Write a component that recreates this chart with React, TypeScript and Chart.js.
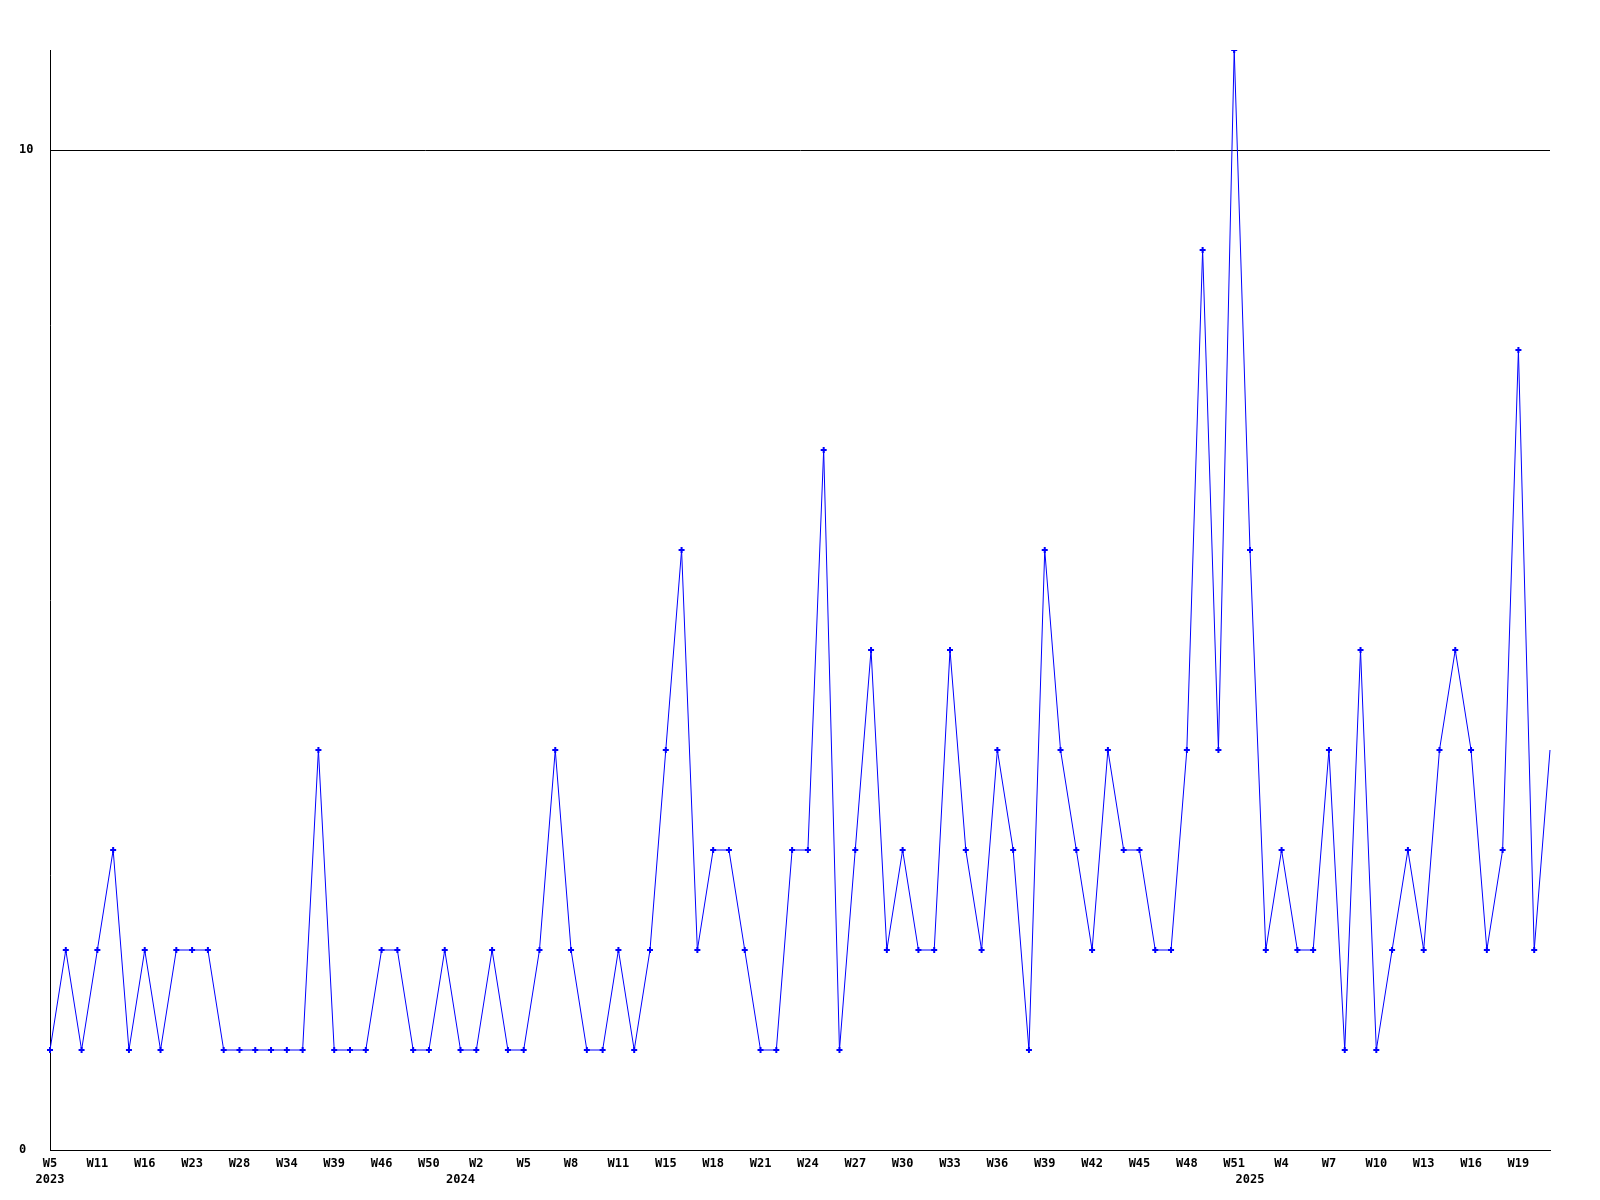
import React, { useEffect, useRef } from "react";
import { Chart, registerables } from "chart.js";

Chart.register(...registerables);

// Weeks (year-week) present in the series
const weeks: string[] = [
  "2023-W05", "2023-W07", "2023-W09", "2023-W11", "2023-W12", "2023-W14", "2023-W16", "2023-W18",
  "2023-W20", "2023-W23", "2023-W25", "2023-W26", "2023-W28", "2023-W30", "2023-W32", "2023-W34",
  "2023-W35", "2023-W37", "2023-W39", "2023-W42", "2023-W44", "2023-W46", "2023-W47", "2023-W49",
  "2023-W50", "2023-W52",
  "2024-W01", "2024-W02", "2024-W03", "2024-W04", "2024-W05", "2024-W06", "2024-W07", "2024-W08",
  "2024-W09", "2024-W10", "2024-W11", "2024-W13", "2024-W14", "2024-W15", "2024-W16", "2024-W17",
  "2024-W18", "2024-W19", "2024-W20", "2024-W21", "2024-W22", "2024-W23", "2024-W24", "2024-W25",
  "2024-W26", "2024-W27", "2024-W28", "2024-W29", "2024-W30", "2024-W31", "2024-W32", "2024-W33",
  "2024-W34", "2024-W35", "2024-W36", "2024-W37", "2024-W38", "2024-W39", "2024-W40", "2024-W41",
  "2024-W42", "2024-W43", "2024-W44", "2024-W45", "2024-W46", "2024-W47", "2024-W48", "2024-W49",
  "2024-W50", "2024-W51",
  "2025-W01", "2025-W03", "2025-W04", "2025-W05", "2025-W06", "2025-W07", "2025-W08", "2025-W09",
  "2025-W10", "2025-W11", "2025-W12", "2025-W13", "2025-W14", "2025-W15", "2025-W16", "2025-W17",
  "2025-W18", "2025-W19", "2025-W20", "2025-W21",
];

const counts: number[] = [
  1, 2, 1, 2, 3, 1, 2, 1, 2, 2,
  2, 1, 1, 1, 1, 1, 1, 4, 1, 1,
  1, 2, 2, 1, 1, 2, 1, 1, 2, 1,
  1, 2, 4, 2, 1, 1, 2, 1, 2, 4,
  6, 2, 3, 3, 2, 1, 1, 3, 3, 7,
  1, 3, 5, 2, 3, 2, 2, 5, 3, 2,
  4, 3, 1, 6, 4, 3, 2, 4, 3, 3,
  2, 2, 4, 9, 4, 11, 6, 2, 3, 2,
  2, 4, 1, 5, 1, 2, 3, 2, 4, 5,
  4, 2, 3, 8, 2, 4,
];

const yTickValues: number[] = [0, 10];
const yMin = 0;
const yMax = 11;
const labelEvery = 3;

const FONT = { family: "'DejaVu Sans Mono', 'Liberation Mono', monospace", size: 12, weight: "bold" as const, lineHeight: 1.3 };

export default function App() {
  const canvasRef = useRef<HTMLCanvasElement | null>(null);

  useEffect(() => {
    const canvas = canvasRef.current;
    if (!canvas) return;
    const last = counts.length - 1;
    const chart = new Chart(canvas, {
      type: "line",
      data: {
        labels: weeks,
        datasets: [
          {
            data: counts,
            borderColor: "#0000ff",
            backgroundColor: "#0000ff",
            borderWidth: 1,
            tension: 0,
            fill: false,
            pointStyle: "cross",
            pointRadius: (ctx: any) => (ctx.dataIndex === last ? 0 : 3),
            pointBorderWidth: 2,
            pointBorderColor: "#0000ff",
            pointBackgroundColor: "#0000ff",
          },
        ],
      },
      options: {
        animation: false,
        responsive: false,
        maintainAspectRatio: false,
        layout: { padding: { left: 19, top: 50, right: 50, bottom: 0 } },
        plugins: {
          legend: { display: false },
          tooltip: { enabled: false },
          title: { display: false },
        },
        scales: {
          x: {
            type: "category",
            grid: { display: false, drawTicks: false },
            border: { display: true, color: "#000000", width: 1 },
            afterFit: (scale: any) => {
              scale.height = 50;
            },
            ticks: {
              autoSkip: false,
              maxRotation: 0,
              minRotation: 0,
              padding: 6,
              color: "#000000",
              font: FONT,
              callback: (_value: any, index: number) => {
                const w = weeks[index];
                const year = w.slice(0, 4);
                const wk = Number(w.slice(6));
                const weekText = index % labelEvery === 0 ? "W" + wk : "";
                const firstOfYear = index === 0 || weeks[index - 1].slice(0, 4) !== year;
                return firstOfYear ? [weekText, year] : weekText;
              },
            },
          },
          y: {
            type: "linear",
            min: yMin,
            max: yMax,
            grid: { display: true, color: "#000000", lineWidth: 1, drawTicks: false },
            border: { display: true, color: "#000000", width: 1 },
            afterFit: (scale: any) => {
              scale.width = 31;
            },
            afterBuildTicks: (scale: any) => {
              scale.ticks = yTickValues.map((v) => ({ value: v }));
            },
            ticks: {
              includeBounds: false,
              crossAlign: "far",
              padding: 6,
              color: "#000000",
              font: FONT,
            },
          },
        },
      },
    });
    return () => chart.destroy();
  }, []);

  return (
    <div style={{ position: "fixed", left: 0, top: 0, width: 1600, height: 1200, background: "#ffffff" }}>
      <canvas ref={canvasRef} width={1600} height={1200} style={{ display: "block", width: 1600, height: 1200 }} />
    </div>
  );
}
